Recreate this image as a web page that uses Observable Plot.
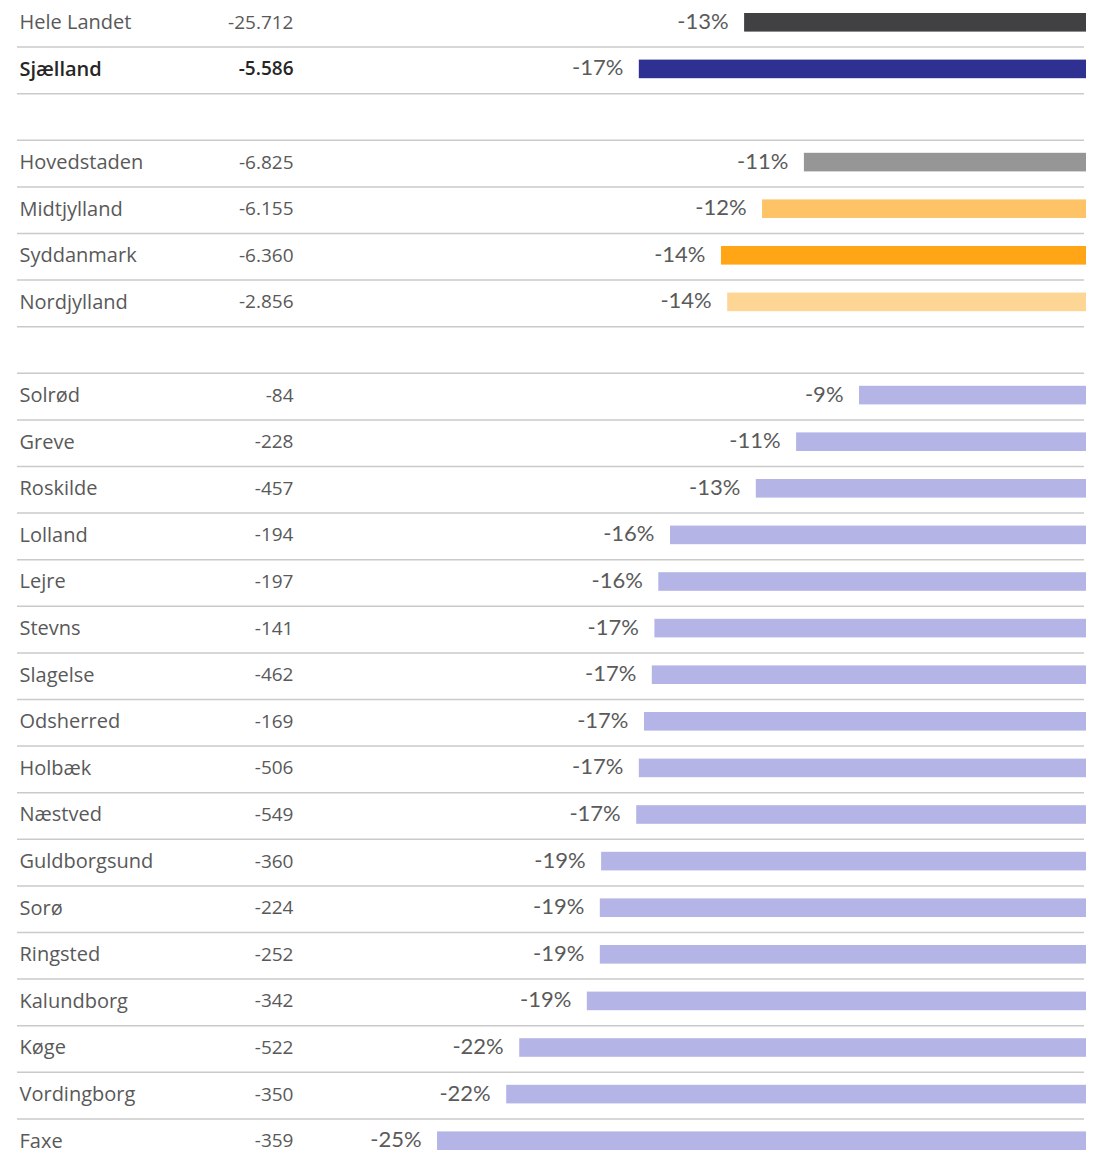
<!DOCTYPE html>
<html><head><meta charset="utf-8">
<script src="https://cdn.jsdelivr.net/npm/d3@7"></script>
<script src="https://cdn.jsdelivr.net/npm/@observablehq/plot@0.6"></script>
<style>
body{margin:0;background:#fff}
#chart svg{display:block}
</style>
</head><body><div id="chart"></div>
<script>
// Rows in display order
const names = ["Hele Landet","Sjælland","Hovedstaden","Midtjylland","Syddanmark","Nordjylland",
  "Solrød","Greve","Roskilde","Lolland","Lejre","Stevns","Slagelse","Odsherred","Holbæk","Næstved",
  "Guldborgsund","Sorø","Ringsted","Kalundborg","Køge","Vordingborg","Faxe"];
const counts = ["-25.712","-5.586","-6.825","-6.155","-6.360","-2.856",
  "-84","-228","-457","-194","-197","-141","-462","-169","-506","-549",
  "-360","-224","-252","-342","-522","-350","-359"];
const pcts = [-13.15,-17.2,-10.85,-12.46,-14.04,-13.8,
  -8.73,-11.15,-12.7,-16.0,-16.45,-16.6,-16.7,-17.0,-17.2,-17.3,
  -18.65,-18.7,-18.7,-19.2,-21.8,-22.3,-24.96];
const groups = ["Land","Land","Region","Region","Region","Region",
  "Kommune","Kommune","Kommune","Kommune","Kommune","Kommune","Kommune","Kommune","Kommune","Kommune",
  "Kommune","Kommune","Kommune","Kommune","Kommune","Kommune","Kommune"];
const highlight = "Sjælland";

const colorKeys = ["Hele Landet","Sjælland","Hovedstaden","Midtjylland","Syddanmark","Nordjylland","Kommune"];
const colorValues = ["#414143","#2e3192","#969696","#fdc366","#ffa516","#fdd595","#b4b4e6"];

const rows = names.map((name, i) => ({
  name, count: counts[i], pct: pcts[i], group: groups[i],
  key: groups[i] === "Kommune" ? "Kommune" : name,
  label: Math.round(pcts[i]) + "%"
}));

// y domain with blank spacer rows between groups
const yDomain = [];
let prev = null, gapN = 0;
for (const r of rows) {
  if (prev !== null && r.group !== prev) {
    gapN++; yDomain.push(" ".repeat(gapN));
  }
  yDomain.push(r.name);
  prev = r.group;
}

const rangeEnd = 1165;
const rowH = rangeEnd / yDomain.length;
const nameFont = "'Open Sans', sans-serif";
const pctFont = "Lato, sans-serif";

const chart = Plot.plot({
  width: 1094,
  height: 1160,
  marginLeft: 0, marginRight: 8, marginTop: 0, marginBottom: 0,
  x: {domain: [-41.77, 0], axis: null},
  y: {domain: yDomain, range: [0, rangeEnd], padding: 0, round: false, axis: null},
  color: {domain: colorKeys, range: colorValues},
  style: {background: "#fff"},
  marks: [
    Plot.ruleY(yDomain, {y: d => d, dy: rowH / 2, stroke: "#cacaca", strokeWidth: 1.5, insetLeft: 17, insetRight: 2}),
    Plot.barX(rows, {y: "name", x1: "pct", x2: 0, fill: "key", insetTop: 13, insetBottom: 15}),
    Plot.text(rows, {y: "name", x: "pct", text: "label", textAnchor: "end", dx: -16, dy: -2,
      fontFamily: pctFont, fontWeight: 400, fontSize: 22, fill: "#5a5a5a"}),
    Plot.text(rows.filter(d => d.name !== highlight), {y: "name", text: "name", frameAnchor: "left", dx: 19, dy: -1,
      textAnchor: "start", fontFamily: nameFont, fontSize: 20, fill: "#595959"}),
    Plot.text(rows.filter(d => d.name !== highlight), {y: "name", text: "count", frameAnchor: "left", dx: 293, dy: -1,
      textAnchor: "end", fontFamily: nameFont, fontSize: 19, fill: "#595959"}),
    Plot.text(rows.filter(d => d.name === highlight), {y: "name", text: "name", frameAnchor: "left", dx: 19, dy: -1,
      textAnchor: "start", fontFamily: nameFont, fontSize: 20, fontWeight: 600, fill: "#262626"}),
    Plot.text(rows.filter(d => d.name === highlight), {y: "name", text: "count", frameAnchor: "left", dx: 293, dy: -1,
      textAnchor: "end", fontFamily: nameFont, fontSize: 19, fontWeight: 600, fill: "#262626"})
  ]
});
document.getElementById("chart").appendChild(chart);
</script>
</body></html>
